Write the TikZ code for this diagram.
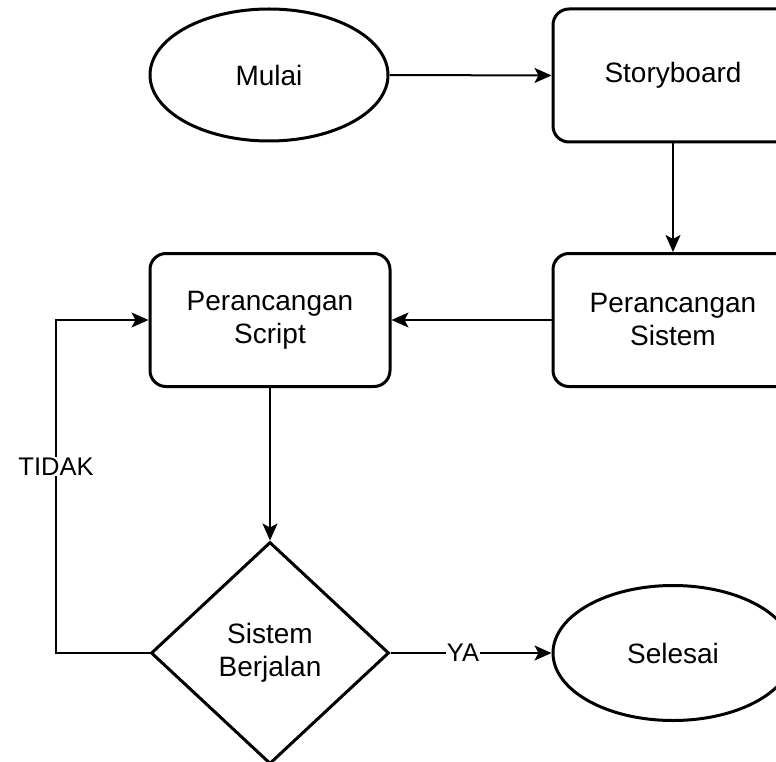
\documentclass[tikz,border=0pt]{standalone}
\usepackage{fontspec}
\setmainfont{Liberation Sans}
\usetikzlibrary{shapes.geometric,arrows.meta}
\begin{document}
\begin{tikzpicture}[x=1pt,y=-1pt,
  shapebox/.style={draw=black, line width=3pt, fill=white, rectangle, rounded corners=16pt,
    minimum width=240pt, minimum height=133pt, inner sep=0pt, align=center,
    font=\fontsize{28}{33}\selectfont},
  oval/.style={draw=black, line width=3pt, fill=white, ellipse,
    minimum width=238pt, minimum height=132pt, inner sep=0pt, align=center,
    font=\fontsize{28}{33}\selectfont},
  decide/.style={draw=black, line width=3pt, fill=white, diamond,
    minimum width=238pt, minimum height=222pt, inner sep=0pt, align=center,
    font=\fontsize{28}{33}\selectfont},
  arr/.style={draw=black, line width=2pt, -{Stealth[length=17pt,width=15pt,inset=4pt]}},
  lbl/.style={fill=white, inner sep=1pt, font=\fontsize{25.5}{30}\selectfont}
]
\useasboundingbox (0,0) rectangle (776,762);
\node[oval] (mulai) at (269,75) {Mulai};
\node[shapebox] (story) at (673,75.5) {Storyboard};
\node[shapebox] (sistem) at (673,320) {Perancangan\\Sistem};
\node[shapebox] (script) at (270,320) {Perancangan\\Script};
\node[decide] (dec) at (270,653) {Sistem\\Berjalan};
\node[oval, minimum width=240pt, minimum height=135pt] (selesai) at (673,653) {Selesai};
\coordinate (lp) at (56,653);

\draw[arr] (mulai.east) -- (story.west);
\draw[arr] (story.south) -- (sistem.north);
\draw[arr] (sistem.west) -- (script.east);
\draw[arr] (script.south) -- (dec.north);
\draw[arr] (dec.east) -- node[lbl, pos=0.45] {YA} (selesai.west);
\draw[arr] (dec.west) -- (lp) |- node[lbl, pos=0.28] {TIDAK} (script.west);
\end{tikzpicture}
\end{document}
